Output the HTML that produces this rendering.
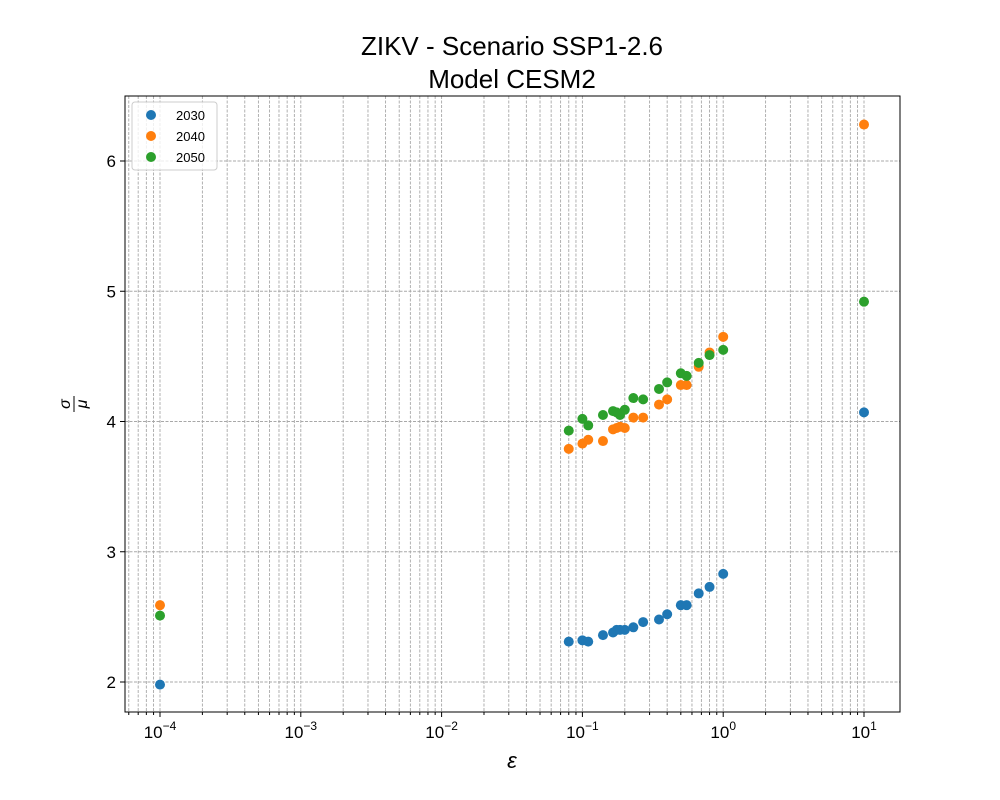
<!DOCTYPE html>
<html><head><meta charset="utf-8"><style>body{margin:0;background:#fff}svg{display:block}text{font-family:"Liberation Sans","DejaVu Sans",sans-serif}</style></head>
<body>
<svg id="c" width="1000" height="800"></svg>
<script>
const xs=[1e-4,0.08,0.1,0.11,0.14,0.165,0.175,0.185,0.2,0.23,0.27,0.35,0.4,0.5,0.55,0.67,0.8,1.0,10];
const y2030=[1.98,2.31,2.32,2.31,2.36,2.38,2.40,2.40,2.40,2.42,2.46,2.48,2.52,2.59,2.59,2.68,2.73,2.83,4.07];
const y2040=[2.59,3.79,3.83,3.86,3.85,3.94,3.95,3.96,3.95,4.03,4.03,4.13,4.17,4.28,4.28,4.42,4.53,4.65,6.28];
const y2050=[2.51,3.93,4.02,3.97,4.05,4.08,4.07,4.05,4.09,4.18,4.17,4.25,4.30,4.37,4.35,4.45,4.51,4.55,4.92];
const seriesNames=["2030","2040","2050"];
const colors=["#1f77b4","#ff7f0e","#2ca02c"];
const yTicks=[2,3,4,5,6];
const xTickExp=[-4,-3,-2,-1,0,1];
const NS="http://www.w3.org/2000/svg";
const svg=document.getElementById('c');
const L=125,R=900,T=96,B=712;
function sx(v){return 160+(Math.log10(v)+4)*140.8;}
function sy(v){return 682-(v-2)*130.25;}
function mk(tag,attrs,parent){const e=document.createElementNS(NS,tag);for(const k in attrs)e.setAttribute(k,attrs[k]);(parent||svg).appendChild(e);return e;}
const grid=mk('g',{});


for(let e=-5;e<=1;e++){for(let m=1;m<10;m++){const v=m*Math.pow(10,e);const x=sx(v);if(x<L||x>R)continue;
mk('line',{x1:x,x2:x,y1:T,y2:B,stroke:'#a8a8a8','stroke-width':0.9,'stroke-dasharray':'3,1.5'},grid);}}
yTicks.forEach(v=>mk('line',{x1:L,x2:R,y1:sy(v),y2:sy(v),stroke:'#a8a8a8','stroke-width':0.9,'stroke-dasharray':'3,1.5'},grid));
const fr=mk('rect',{x:L,y:T,width:R-L,height:B-T,fill:'none',stroke:'#000','stroke-width':1});


const xa=mk('g',{});


for(let e=-5;e<=1;e++){for(let m=1;m<10;m++){const x=sx(m*Math.pow(10,e));if(x<L||x>R)continue;mk('line',{x1:x,x2:x,y1:B,y2:B+(m==1?5:3),stroke:'#000'},xa);}}
xTickExp.forEach(e=>{const t=mk('text',{x:sx(Math.pow(10,e)),y:B+26,'text-anchor':'middle','font-size':17},xa);
t.innerHTML='10<tspan dy="-8" font-size="12">'+(e<0?'−'+(-e):e)+'</tspan>';});
const ya=mk('g',{});


yTicks.forEach(v=>{mk('line',{x1:L-5,x2:L,y1:sy(v),y2:sy(v),stroke:'#000'},ya);
const t=mk('text',{x:L-9,y:sy(v)+6,'text-anchor':'end','font-size':17},ya);t.textContent=v;});
[y2030,y2040,y2050].forEach((ys,si)=>{const g=mk('g',{});


xs.forEach((x,i)=>{const c=mk('circle',{cx:sx(x),cy:sy(ys[i]),r:5,fill:colors[si]},g);

});});
</script>
<svg style="position:absolute;left:0;top:0" width="1000" height="800">
<text x="512" y="55" text-anchor="middle" font-size="26">ZIKV - Scenario SSP1-2.6</text>
<text x="512" y="88" text-anchor="middle" font-size="26">Model CESM2</text>
<text x="512" y="768" text-anchor="middle" font-size="22" font-style="italic">ε</text>
<g transform="translate(72,404) rotate(-90)">
<text x="0" y="-2" text-anchor="middle" font-size="16" font-style="italic">σ</text>
<line x1="-8" x2="8" y1="2" y2="2" stroke="#000" stroke-width="1"/>
<text x="0" y="15" text-anchor="middle" font-size="16" font-style="italic">μ</text>
</g>
<g>
<rect x="132" y="102" width="85" height="68" rx="3" fill="#fff" fill-opacity="0.8" stroke="#ccc"/>
<circle cx="151" cy="115" r="5" fill="#1f77b4"/><text x="176" y="120" font-size="13">2030</text>
<circle cx="151" cy="136" r="5" fill="#ff7f0e"/><text x="176" y="141" font-size="13">2040</text>
<circle cx="151" cy="157" r="5" fill="#2ca02c"/><text x="176" y="162" font-size="13">2050</text>
</g>
</svg>
</body></html>
